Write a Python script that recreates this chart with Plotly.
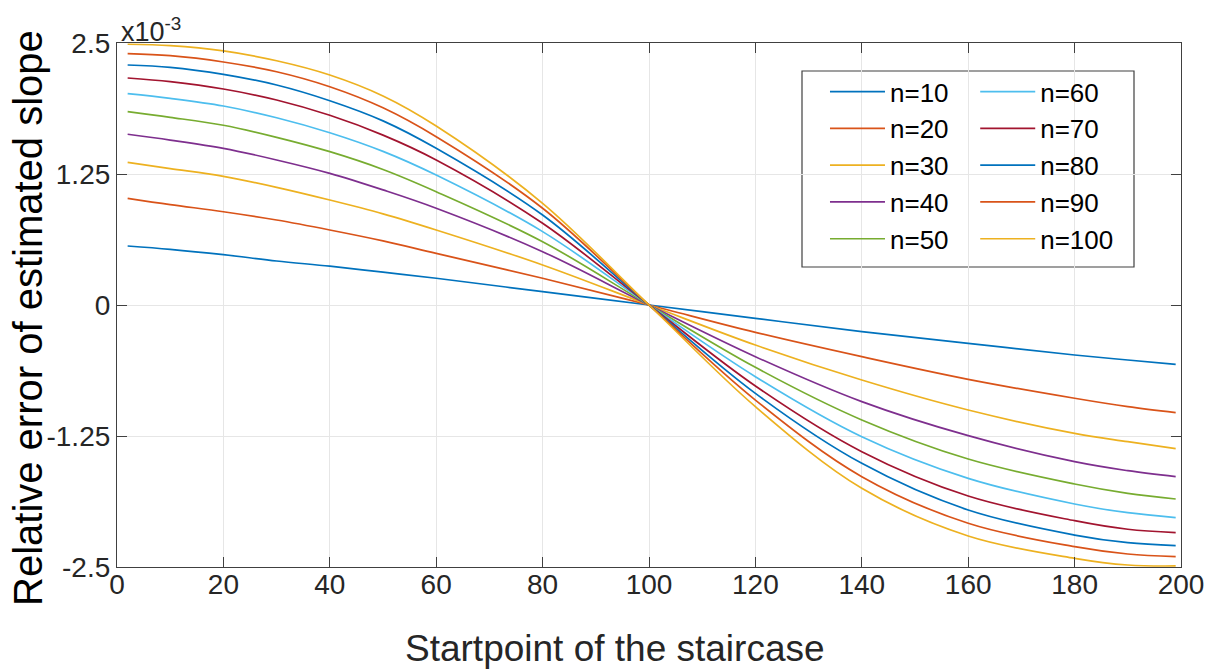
import plotly.graph_objects as go

# x positions (startpoint of the staircase)
x_vals = [2, 10, 20, 30, 40, 50, 60, 80, 100, 120, 140, 160, 180, 190, 199]

# relative error values, in units of 1e-3
n10 = [0.563, 0.531, 0.480, 0.420, 0.370, 0.313, 0.255, 0.127, 0, -0.127, -0.254, -0.366, -0.477, -0.525, -0.566]
n20 = [1.018, 0.958, 0.890, 0.811, 0.716, 0.612, 0.493, 0.255, 0, -0.261, -0.493, -0.709, -0.890, -0.970, -1.027]
n30 = [1.361, 1.302, 1.228, 1.123, 1.002, 0.870, 0.716, 0.382, 0, -0.382, -0.716, -1.002, -1.225, -1.304, -1.371]
n40 = [1.629, 1.574, 1.495, 1.384, 1.256, 1.098, 0.923, 0.509, 0, -0.493, -0.922, -1.247, -1.495, -1.581, -1.638]
n50 = [1.845, 1.791, 1.715, 1.600, 1.463, 1.293, 1.081, 0.604, 0, -0.595, -1.097, -1.470, -1.708, -1.797, -1.851]
n60 = [2.017, 1.972, 1.899, 1.787, 1.644, 1.466, 1.240, 0.700, 0, -0.684, -1.257, -1.654, -1.899, -1.982, -2.029]
n70 = [2.166, 2.131, 2.061, 1.956, 1.810, 1.621, 1.384, 0.780, 0, -0.773, -1.400, -1.823, -2.058, -2.140, -2.172]
n80 = [2.290, 2.268, 2.201, 2.099, 1.949, 1.757, 1.495, 0.859, 0, -0.843, -1.511, -1.956, -2.195, -2.268, -2.296]
n90 = [2.398, 2.379, 2.319, 2.226, 2.083, 1.882, 1.606, 0.923, 0, -0.907, -1.638, -2.083, -2.306, -2.376, -2.401]
n100 = [2.488, 2.474, 2.424, 2.331, 2.195, 1.995, 1.708, 0.970, 0, -0.970, -1.749, -2.204, -2.417, -2.481, -2.490]

series_names = ["n=10", "n=20", "n=30", "n=40", "n=50", "n=60", "n=70", "n=80", "n=90", "n=100"]
series_vals = [n10, n20, n30, n40, n50, n60, n70, n80, n90, n100]

x_ticks = [0, 20, 40, 60, 80, 100, 120, 140, 160, 180, 200]
y_ticks = [-2.5, -1.25, 0, 1.25, 2.5]
y_ticklabels = ["-2.5", "-1.25", "0", "1.25", "2.5"]

colors = ["#0072BD", "#D95319", "#EDB120", "#7E2F8E", "#77AC30",
          "#4DBEEE", "#A2142F", "#0072BD", "#D95319", "#EDB120"]

FONT = "Liberation Sans, Arial, sans-serif"
AX = "#404040"

fig = go.Figure()
for i, (name, vals) in enumerate(zip(series_names, series_vals)):
    fig.add_trace(go.Scatter(
        x=x_vals, y=vals, mode="lines", name=name,
        line=dict(color=colors[i], width=1.7, shape="spline", smoothing=1.0),
        legend="legend" if i < 5 else "legend2",
    ))

legend_common = dict(
    font=dict(family=FONT, size=26, color="#000000"),
    bgcolor="rgba(0,0,0,0)",
    borderwidth=0,
    itemwidth=55,
    tracegroupgap=0,
    yanchor="top",
    xanchor="left",
)

fig.update_layout(
    width=1221, height=670,
    margin=dict(l=117, r=40, t=43, b=103),
    paper_bgcolor="white",
    plot_bgcolor="white",
    font=dict(family=FONT, size=28, color="#262626"),
    legend=dict(x=0.6654, y=0.952, **legend_common),
    legend2=dict(x=0.8066, y=0.952, **legend_common),
    xaxis=dict(
        range=[0, 200], tickvals=x_ticks, ticks="inside", ticklen=10,
        tickcolor=AX, showline=True, linecolor=AX, linewidth=1.2,
        mirror="ticks", showgrid=True, gridcolor="#E6E6E6", gridwidth=1,
        zeroline=False, ticklabelstandoff=-8,
        tickfont=dict(family=FONT, size=28, color="#262626"),
    ),
    yaxis=dict(
        range=[-2.5, 2.5], tickvals=y_ticks, ticktext=y_ticklabels,
        ticks="inside", ticklen=10,
        tickcolor=AX, showline=True, linecolor=AX, linewidth=1.2,
        mirror="ticks", showgrid=True, gridcolor="#E6E6E6", gridwidth=1,
        zeroline=False,
        tickfont=dict(family=FONT, size=28, color="#262626"),
    ),
    shapes=[dict(type="rect", xref="paper", yref="paper",
                 x0=(802 - 117) / 1064, x1=(1134 - 117) / 1064,
                 y0=(567 - 267) / 524, y1=(567 - 71) / 524,
                 line=dict(color=AX, width=1.2), fillcolor="white", layer="below")],
    annotations=[
        dict(text="x10<sup>-3</sup>", xref="paper", yref="paper",
             x=0.0, y=1.0, xanchor="left", yanchor="bottom", showarrow=False,
             font=dict(family=FONT, size=27, color="#262626"), xshift=2, yshift=-6),
        dict(text="Startpoint of the staircase", xref="paper", yref="paper",
             x=(615 - 117) / 1064, y=-(648 - 567) / 524, xanchor="center", yanchor="middle",
             showarrow=False, font=dict(family=FONT, size=37, color="#262626")),
        dict(text="Relative error of estimated slope", xref="paper", yref="paper",
             x=-(117 - 28) / 1064, y=(567 - 318) / 524, xanchor="center", yanchor="middle",
             textangle=-90, showarrow=False,
             font=dict(family=FONT, size=40, color="#000000")),
    ],
)

fig.write_html("out.html")
